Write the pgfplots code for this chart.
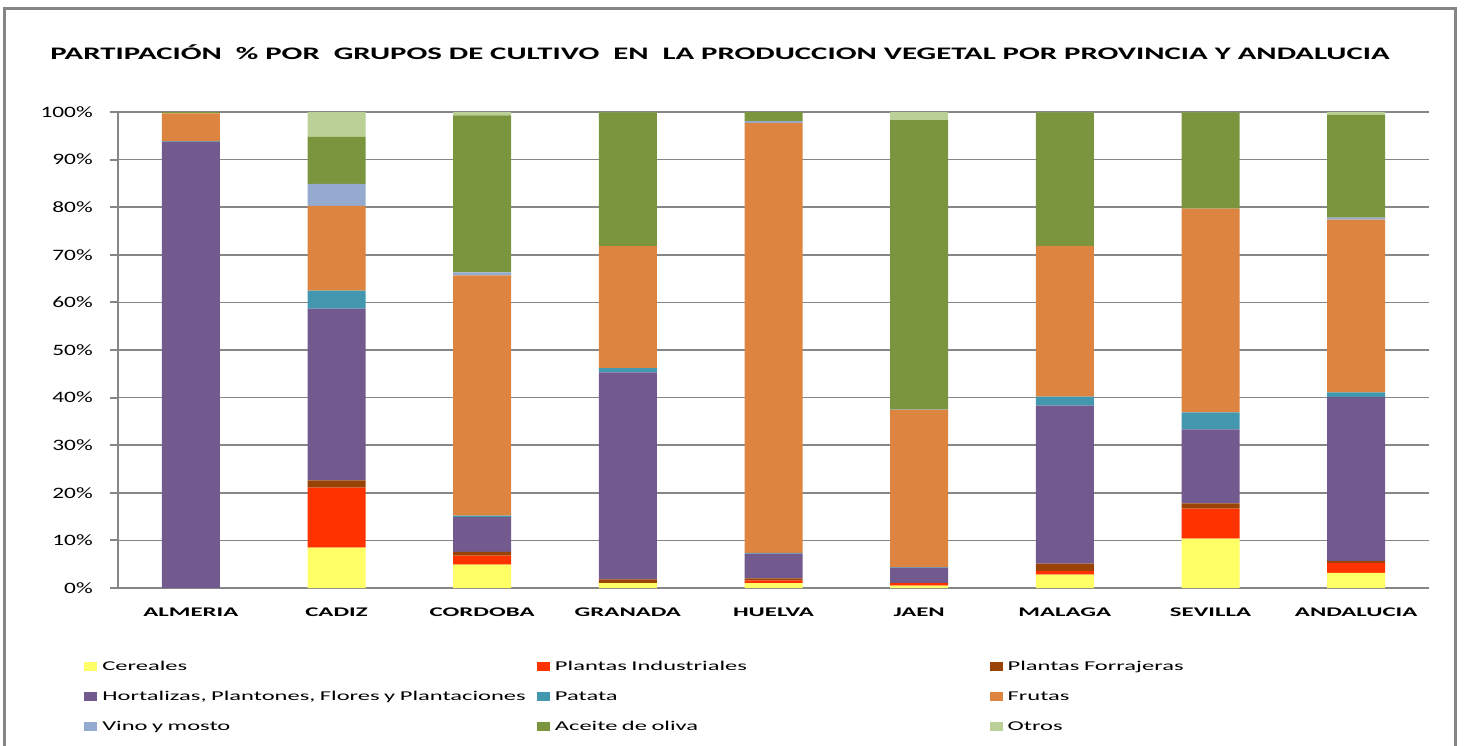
\documentclass[border=0pt]{standalone}
\usepackage{pgfplots}
\pgfplotsset{compat=1.18}
\usepackage{fontspec}
\setmainfont{Carlito}
\newfontfamily\titlef[FakeStretch=1.75]{Carlito}
\newfontfamily\tickf[FakeStretch=1.47]{Carlito}
\newfontfamily\legf[FakeStretch=1.82]{Carlito}
\newfontfamily\catf[FakeStretch=1.88]{Carlito}
\definecolor{gridgray}{RGB}{134,134,134}
\definecolor{cCer}{RGB}{255,255,102}
\definecolor{cInd}{RGB}{255,51,0}
\definecolor{cFor}{RGB}{153,68,6}
\definecolor{cHor}{RGB}{114,89,142}
\definecolor{cPat}{RGB}{67,152,175}
\definecolor{cFru}{RGB}{221,132,64}
\definecolor{cVin}{RGB}{149,170,207}
\definecolor{cOli}{RGB}{122,149,61}
\definecolor{cOtr}{RGB}{187,208,151}
\begin{document}
\begin{tikzpicture}
\path[use as bounding box] (0pt,0pt) rectangle (1098.75pt,-559.5pt);
\draw[gridgray, line width=2.25pt] (3pt,-6pt) rectangle (1091.25pt,-575pt);
\node[anchor=west, inner sep=0pt] at (37.5pt,-39pt) {\titlef\fontsize{13.2pt}{15pt}\selectfont\bfseries PARTIPACIÓN~~\%~POR~~GRUPOS DE CULTIVO~~EN~~LA PRODUCCION VEGETAL POR PROVINCIA Y ANDALUCIA};
\begin{axis}[
  at={(88.5pt,-441pt)}, anchor=south west,
  scale only axis, width=983.25pt, height=357pt,
  ybar stacked, bar width=43.5pt,
  xmin=-0.5, xmax=8.5, ymin=0, ymax=100,
  axis lines*=left,
  axis line style={gridgray, line width=1.5pt},
  xtick={0,...,8},
  xticklabels={ALMERIA,CADIZ,CORDOBA,GRANADA,HUELVA,JAEN,MALAGA,SEVILLA,ANDALUCIA},
  major x tick style={draw=none},
  extra x ticks={-0.5,0.5,1.5,2.5,3.5,4.5,5.5,6.5,7.5,8.5},
  extra x tick labels={},
  extra x tick style={grid=none, tick align=outside, major tick length=3.75pt, tick style={gridgray, line width=1.5pt}},
  xticklabel style={font=\catf\fontsize{9.9pt}{11pt}\selectfont\bfseries, anchor=base, inner sep=0pt, yshift=-15.15pt},
  ytick={0,10,...,100},
  yticklabels={0\%,10\%,20\%,30\%,40\%,50\%,60\%,70\%,80\%,90\%,100\%},
  yticklabel style={font=\tickf\fontsize{11.9pt}{13pt}\selectfont, anchor=east, inner sep=0pt, xshift=-12.75pt},
  ymajorgrids, grid style={gridgray, line width=1.1pt},
  y tick style={gridgray, line width=1.5pt}, tick align=outside, major tick length=6pt,
  clip=true,
  legend columns=3,
  legend style={at={(-0.0259,-0.1517)}, anchor=north west, draw=none, fill=none, inner sep=0pt,
    row sep=12.9pt,
    nodes={inner sep=0pt, text height=7.5pt, text depth=2pt, font=\legf\fontsize{10.1pt}{12pt}\selectfont},
    /tikz/every odd column/.append style={column sep=3.75pt},
    /tikz/every even column/.append style={text width=326pt, align=left}},
  legend image code/.code={\fill[#1] (0pt,-3.375pt) rectangle (9.75pt,3.375pt);},
]
\addplot[fill=cCer, draw=none] coordinates {(0,0) (1,8.5) (2,4.9) (3,1.0) (4,1.0) (5,0.5) (6,2.8) (7,10.4) (8,3.2)};
\addplot[fill=cInd, draw=none] coordinates {(0,0) (1,12.6) (2,1.9) (3,0.1) (4,0.6) (5,0.5) (6,0.8) (7,6.3) (8,2.1)};
\addplot[fill=cFor, draw=none] coordinates {(0,0) (1,1.5) (2,0.8) (3,0.7) (4,0.4) (5,0.1) (6,1.5) (7,1.1) (8,0.4)};
\addplot[fill=cHor, draw=none] coordinates {(0,93.8) (1,36.1) (2,7.3) (3,43.5) (4,5.2) (5,3.2) (6,33.2) (7,15.5) (8,34.4)};
\addplot[fill=cPat, draw=none] coordinates {(0,0.1) (1,3.8) (2,0.3) (3,0.9) (4,0.2) (5,0.1) (6,1.9) (7,3.6) (8,1.0)};
\addplot[fill=cFru, draw=none] coordinates {(0,5.8) (1,17.8) (2,50.5) (3,25.6) (4,90.3) (5,33.0) (6,31.7) (7,42.8) (8,36.3)};
\addplot[fill=cVin, draw=none] coordinates {(0,0) (1,4.6) (2,0.6) (3,0) (4,0.4) (5,0.1) (6,0) (7,0) (8,0.4)};
\addplot[fill=cOli, draw=none] coordinates {(0,0.3) (1,9.9) (2,33.0) (3,28.1) (4,1.9) (5,60.8) (6,28.0) (7,20.2) (8,21.6)};
\addplot[fill=cOtr, draw=none] coordinates {(0,0) (1,5.2) (2,0.7) (3,0.2) (4,0) (5,1.7) (6,0.1) (7,0.2) (8,0.6)};
\legend{Cereales,Plantas Industriales,Plantas Forrajeras,{Hortalizas, Plantones, Flores y Plantaciones},Patata,Frutas,Vino y mosto,Aceite de oliva,Otros}
\end{axis}
\end{tikzpicture}
\end{document}
